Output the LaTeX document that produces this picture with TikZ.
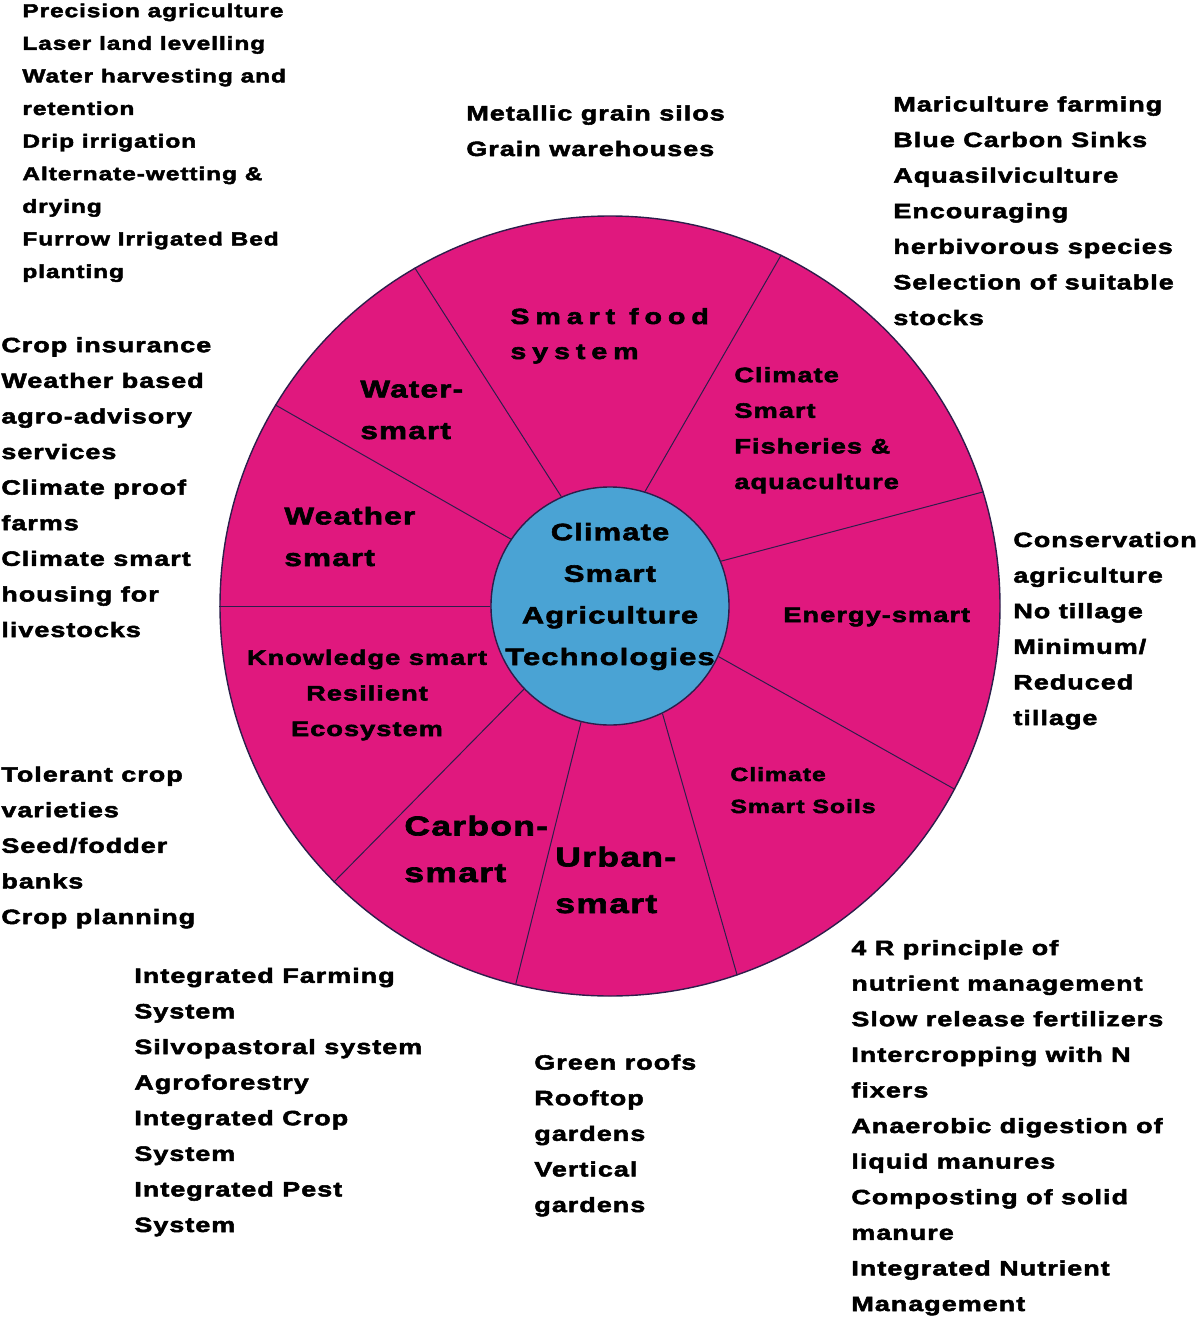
\documentclass[tikz,border=0pt]{standalone}
\usepackage{fontspec}
\setmainfont{Liberation Sans}
\newfontfamily\wheelfont[FakeStretch=1.3,FakeBold=2.5,LetterSpace=5]{Liberation Sans}
\newfontfamily\trackfont[FakeStretch=1.3,FakeBold=2.5,LetterSpace=27]{Liberation Sans}
\usetikzlibrary{shapes.geometric}

\definecolor{wheelpink}{RGB}{224,24,126}
\definecolor{hubblue}{RGB}{74,163,212}
\definecolor{edge}{RGB}{45,30,75}

% every text node is placed at the baseline of its LAST line
\tikzset{
  rimcircle/.style={circle, draw=edge, fill=wheelpink, line width=0.7pt, inner sep=0pt, minimum size=390pt},
  hubcircle/.style={circle, draw=edge, fill=hubblue, line width=0.7pt, inner sep=0pt, minimum size=119pt},
  divider/.style={draw=edge, line width=0.5pt},
  listtext/.style={anchor=base west, align=left, inner sep=0pt, font=\wheelfont\bfseries\fontsize{10.35}{17.8}\selectfont},
  listsmall/.style={listtext, font=\wheelfont\bfseries\fontsize{9.4}{16.3}\selectfont},
  seglabel/.style={listtext, font=\wheelfont\bfseries\fontsize{10.45}{17.8}\selectfont},
  segsmall/.style={listtext, font=\wheelfont\bfseries\fontsize{9.55}{16}\selectfont},
  segbig/.style={listtext, font=\wheelfont\bfseries\fontsize{12.1}{20.8}\selectfont},
  seghuge/.style={listtext, font=\wheelfont\bfseries\fontsize{13.6}{23.3}\selectfont},
  spaced/.style={listtext, font=\trackfont\bfseries\fontsize{11}{17.5}\selectfont},
  hubtext/.style={anchor=base, align=center, inner sep=0pt, font=\wheelfont\bfseries\fontsize{11.85}{20.8}\selectfont}
}

\begin{document}
\begin{tikzpicture}[x=0.5pt,y=-0.5pt]
  %%%%% FRAME %%%%%
  \useasboundingbox (0,0) rectangle (1200,1322);

  %%%%% WHEEL %%%%%
  \coordinate (C) at (610,606);
  \node[rimcircle] (rim) at (C) {};
  \node[hubcircle] (hub) at (C) {};
  % dividers: hub angle / rim angle
  \foreach \a/\b in {114.3/120.5, 73.9/64.4, 22.1/17.0, -25.5/-28.1, -64.1/-71.7,
                     -104.4/-104.4, -136.3/-135.7, 180/180, 146.9/149.2}
    \draw[divider] (hub.\a) -- (rim.\b);

  %%%%% SEGMENT LABELS %%%%%
  \node[spaced] (food) at (510,359) {Smart food\\system};
  \node[segbig] (water) at (360,439) {Water-\\smart};
  \node[seglabel] (fisheries) at (734,489) {Climate\\Smart\\Fisheries \&\\aquaculture};
  \node[segbig] (weather) at (284,566) {Weather\\smart};
  \node[seglabel] (energy) at (783,622) {Energy-smart};
  \node[seglabel, anchor=base, align=center] (knowledge) at (367,736) {Knowledge smart\\Resilient\\Ecosystem};
  \node[segsmall] (soils) at (730,813) {Climate\\Smart Soils};
  \node[seghuge] (carbon) at (404,882) {Carbon-\\smart};
  \node[seghuge] (urban) at (555,913) {Urban-\\smart};
  \node[hubtext] (hubtext) at (610,665) {Climate\\Smart\\Agriculture\\Technologies};

  %%%%% OUTER LISTS %%%%%
  \node[listsmall] (waternotes) at (22,278) {Precision agriculture\\Laser land levelling\\Water harvesting and\\retention\\Drip irrigation\\Alternate-wetting \&\\drying\\Furrow Irrigated Bed\\planting};
  \node[listtext] (foodnotes) at (466,156) {Metallic grain silos\\Grain warehouses};
  \node[listtext] (fisherynotes) at (893,325) {Mariculture farming\\Blue Carbon Sinks\\Aquasilviculture\\Encouraging\\herbivorous species\\Selection of suitable\\stocks};
  \node[listtext] (weathernotes) at (1,637) {Crop insurance\\Weather based\\agro-advisory\\services\\Climate proof\\farms\\Climate smart\\housing for\\livestocks};
  \node[listtext] (energynotes) at (1013,725) {Conservation\\agriculture\\No tillage\\Minimum/\\Reduced\\tillage};
  \node[listtext] (knowledgenotes) at (1,924) {Tolerant crop\\varieties\\Seed/fodder\\banks\\Crop planning};
  \node[listtext] (carbonnotes) at (134,1232) {Integrated Farming\\System\\Silvopastoral system\\Agroforestry\\Integrated Crop\\System\\Integrated Pest\\System};
  \node[listtext] (urbannotes) at (534,1212) {Green roofs\\Rooftop\\gardens\\Vertical\\gardens};
  \node[listtext] (soilnotes) at (851,1311) {4 R principle of\\nutrient management\\Slow release fertilizers\\Intercropping with N\\fixers\\Anaerobic digestion of\\liquid manures\\Composting of solid\\manure\\Integrated Nutrient\\Management};
\end{tikzpicture}
\end{document}
